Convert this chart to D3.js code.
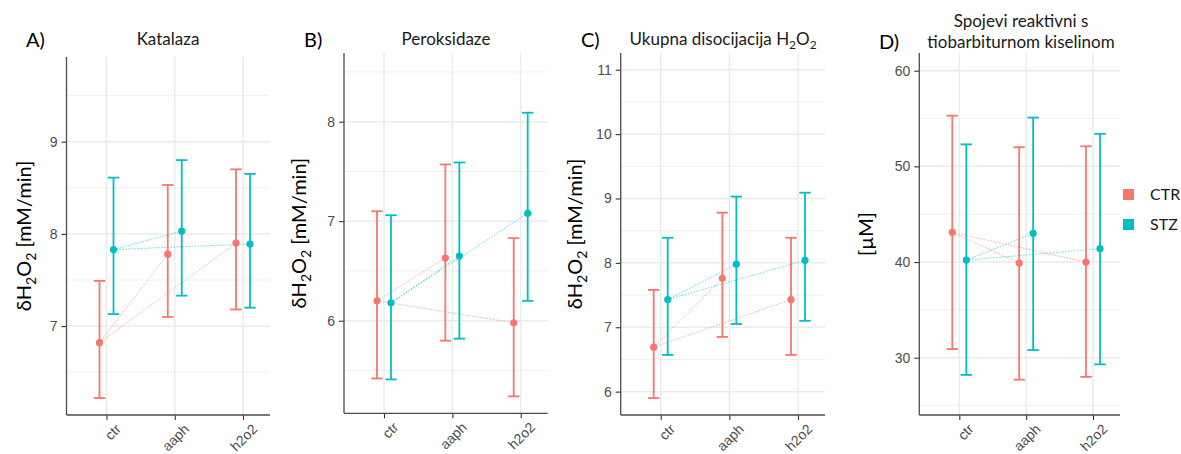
<!DOCTYPE html>
<html>
<head>
<meta charset="utf-8">
<script src="https://cdn.jsdelivr.net/npm/d3@7"></script>
<style>
  html, body { margin: 0; padding: 0; background: #fff; }
  svg { display: block; }
</style>
</head>
<body>
<svg id="chart" width="1181" height="454"></svg>
<script>
// ---------- DATA ----------
const categories = ["ctr", "aaph", "h2o2"];
const groups = ["CTR", "STZ"];
const groupColors = ["#F8766D", "#00BFC4"];

// A) Katalaza
const katalazaCTRmean = [6.82, 7.78, 7.90];
const katalazaCTRlow  = [6.22, 7.10, 7.18];
const katalazaCTRhigh = [7.49, 8.53, 8.70];
const katalazaSTZmean = [7.83, 8.03, 7.89];
const katalazaSTZlow  = [7.13, 7.33, 7.20];
const katalazaSTZhigh = [8.61, 8.80, 8.65];
const katalazaTicks = [7, 8, 9];

// B) Peroksidaze
const peroksidazeCTRmean = [6.20, 6.63, 5.98];
const peroksidazeCTRlow  = [5.42, 5.80, 5.24];
const peroksidazeCTRhigh = [7.10, 7.57, 6.83];
const peroksidazeSTZmean = [6.18, 6.65, 7.08];
const peroksidazeSTZlow  = [5.41, 5.82, 6.20];
const peroksidazeSTZhigh = [7.06, 7.59, 8.09];
const peroksidazeTicks = [6, 7, 8];

// C) Ukupna disocijacija H2O2
const ukupnaCTRmean = [6.69, 7.76, 7.43];
const ukupnaCTRlow  = [5.90, 6.85, 6.57];
const ukupnaCTRhigh = [7.58, 8.78, 8.39];
const ukupnaSTZmean = [7.43, 7.98, 8.04];
const ukupnaSTZlow  = [6.57, 7.05, 7.10];
const ukupnaSTZhigh = [8.39, 9.03, 9.09];
const ukupnaTicks = [6, 7, 8, 9, 10, 11];

// D) Spojevi reaktivni s tiobarbiturnom kiselinom
const tbarsCTRmean = [43.1, 39.9, 40.0];
const tbarsCTRlow  = [30.9, 27.7, 28.0];
const tbarsCTRhigh = [55.3, 52.0, 52.1];
const tbarsSTZmean = [40.2, 43.0, 41.4];
const tbarsSTZlow  = [28.2, 30.8, 29.3];
const tbarsSTZhigh = [52.3, 55.1, 53.4];
const tbarsTicks = [30, 40, 50, 60];

// ---------- LAYOUT ----------
const panels = [
  { letter: "A)", title: ["Katalaza"], yLabel: "h2o2",
    series: [[katalazaCTRmean, katalazaCTRlow, katalazaCTRhigh], [katalazaSTZmean, katalazaSTZlow, katalazaSTZhigh]],
    ticks: katalazaTicks, domain: [6.036, 9.918],
    left: 66.5, right: 270, top: 57, bottom: 415,
    letterX: 26, letterY: 47, titleX: 168, titleY: 45, yLabX: 31 },
  { letter: "B)", title: ["Peroksidaze"], yLabel: "h2o2",
    series: [[peroksidazeCTRmean, peroksidazeCTRlow, peroksidazeCTRhigh], [peroksidazeSTZmean, peroksidazeSTZlow, peroksidazeSTZhigh]],
    ticks: peroksidazeTicks, domain: [5.07, 8.69],
    left: 344, right: 547.7, top: 53, bottom: 413.3,
    letterX: 304, letterY: 47, titleX: 446, titleY: 45, yLabX: 306 },
  { letter: "C)", title: ["Ukupna disocijacija H2O2"], yLabel: "h2o2",
    series: [[ukupnaCTRmean, ukupnaCTRlow, ukupnaCTRhigh], [ukupnaSTZmean, ukupnaSTZlow, ukupnaSTZhigh]],
    ticks: ukupnaTicks, domain: [5.637, 11.26],
    left: 620.7, right: 825, top: 53, bottom: 415,
    letterX: 581, letterY: 47, titleX: 723, titleY: 45, yLabX: 582 },
  { letter: "D)", title: ["Spojevi reaktivni s", "tiobarbiturnom kiselinom"], yLabel: "uM",
    series: [[tbarsCTRmean, tbarsCTRlow, tbarsCTRhigh], [tbarsSTZmean, tbarsSTZlow, tbarsSTZhigh]],
    ticks: tbarsTicks, domain: [24.01, 61.85],
    left: 919.3, right: 1120, top: 53, bottom: 415,
    letterX: 879, letterY: 49, titleX: 1021, titleY: 27, yLabX: 873 }
];

const svg = d3.select("#chart");
const titleFont = "Lato, 'Open Sans', sans-serif";
const tickFont = "'Liberation Sans', Arial, sans-serif";
const gridColor = "#EBEBEB";
const axisColor = "#4D4D4D";
const dodge = 7;

function writeH2O2(sel, size) {
  sel.append("tspan").text("H");
  sel.append("tspan").text("2").attr("font-size", size * 0.7).attr("dy", size * 0.25);
  sel.append("tspan").text("O").attr("dy", -size * 0.25);
  sel.append("tspan").text("2").attr("font-size", size * 0.7).attr("dy", size * 0.25);
}

panels.forEach(p => {
  const g = svg.append("g");
  const x = d3.scalePoint().domain(categories).range([p.left + 40, p.right - 27]);
  const y = d3.scaleLinear().domain(p.domain).range([p.bottom, p.top]);

  // minor grid
  const minor = [];
  const step = p.ticks[1] - p.ticks[0];
  for (let i = 0; i < p.ticks.length + 1; i++) {
    const v = p.ticks[0] - step / 2 + i * step;
    if (v > p.domain[0] && v < p.domain[1]) minor.push(v);
  }
  g.selectAll(".minor").data(minor).enter().append("line")
    .attr("x1", p.left).attr("x2", p.right)
    .attr("y1", d => y(d)).attr("y2", d => y(d))
    .attr("stroke", gridColor).attr("stroke-width", 0.8);
  g.selectAll(".major").data(p.ticks).enter().append("line")
    .attr("x1", p.left).attr("x2", p.right)
    .attr("y1", d => y(d)).attr("y2", d => y(d))
    .attr("stroke", gridColor).attr("stroke-width", 1.5);
  g.selectAll(".vmajor").data(categories).enter().append("line")
    .attr("x1", d => x(d)).attr("x2", d => x(d))
    .attr("y1", p.top).attr("y2", p.bottom)
    .attr("stroke", gridColor).attr("stroke-width", 1.5);

  // axes
  const yAxis = d3.axisLeft(y).tickValues(p.ticks).tickSize(5).tickPadding(4).tickFormat(d3.format("d"));
  const ya = g.append("g").attr("transform", `translate(${p.left},0)`).call(yAxis);
  ya.select(".domain").remove();
  ya.selectAll(".tick line").attr("stroke", "#333").attr("stroke-width", 1.1);
  ya.selectAll(".tick text").attr("fill", axisColor).attr("font-family", tickFont).attr("font-size", 14);

  const xAxis = d3.axisBottom(x).tickSize(5).tickPadding(2);
  const xa = g.append("g").attr("transform", `translate(0,${p.bottom})`).call(xAxis);
  xa.select(".domain").remove();
  xa.selectAll(".tick line").attr("stroke", "#333").attr("stroke-width", 1.1);
  xa.selectAll(".tick text")
    .attr("fill", axisColor).attr("font-family", tickFont).attr("font-size", 14)
    .attr("text-anchor", "end").attr("dy", "0.7em")
    .attr("transform", "translate(3,3) rotate(-45)");

  g.append("line").attr("x1", p.left).attr("x2", p.left).attr("y1", p.top).attr("y2", p.bottom)
    .attr("stroke", axisColor).attr("stroke-width", 1.3);
  g.append("line").attr("x1", p.left).attr("x2", p.right).attr("y1", p.bottom).attr("y2", p.bottom)
    .attr("stroke", axisColor).attr("stroke-width", 1.3);

  // connecting dotted lines (ctr -> each treatment)
  p.series.forEach((s, gi) => {
    const off = gi === 0 ? -dodge : dodge;
    const means = s[0];
    [1, 2].forEach(ci => {
      g.append("line")
        .attr("x1", x(categories[0]) + off).attr("y1", y(means[0]))
        .attr("x2", x(categories[ci]) + off).attr("y2", y(means[ci]))
        .attr("stroke", groupColors[gi]).attr("stroke-width", 0.8)
        .attr("stroke-dasharray", "1.5,1.5").attr("opacity", 0.75);
    });
  });

  // error bars and points
  p.series.forEach((s, gi) => {
    const off = gi === 0 ? -dodge : dodge;
    const [means, lows, highs] = s;
    const col = groupColors[gi];
    const eg = g.append("g");
    categories.forEach((c, ci) => {
      const cx = x(c) + off;
      eg.append("line").attr("x1", cx).attr("x2", cx).attr("y1", y(lows[ci])).attr("y2", y(highs[ci]))
        .attr("stroke", col).attr("stroke-width", 1.8);
      [lows[ci], highs[ci]].forEach(v => {
        eg.append("line").attr("x1", cx - 5.7).attr("x2", cx + 5.7).attr("y1", y(v)).attr("y2", y(v))
          .attr("stroke", col).attr("stroke-width", 1.8);
      });
      eg.append("circle").attr("cx", cx).attr("cy", y(means[ci])).attr("r", 3.6).attr("fill", col);
    });
  });

  // panel letter
  svg.append("text").attr("x", p.letterX).attr("y", p.letterY).text(p.letter)
    .attr("font-family", titleFont).attr("font-size", 20).attr("fill", "#000");

  // title
  p.title.forEach((t, i) => {
    const tt = svg.append("text").attr("x", p.titleX).attr("y", p.titleY + i * 21)
      .attr("text-anchor", "middle").attr("font-family", titleFont).attr("font-size", 17).attr("fill", "#1A1A1A");
    if (t.indexOf("H2O2") >= 0) {
      tt.append("tspan").text("Ukupna disocijacija ");
      writeH2O2(tt, 17);
    } else {
      tt.text(t);
    }
  });

  // y-axis label
  const cy = (p.top + p.bottom) / 2;
  const yl = svg.append("text")
    .attr("transform", `translate(${p.yLabX},${cy}) rotate(-90)`)
    .attr("text-anchor", "middle").attr("font-family", titleFont).attr("font-size", 20).attr("fill", "#000");
  if (p.yLabel === "h2o2") {
    yl.append("tspan").text("δ");
    writeH2O2(yl, 20);
    yl.append("tspan").text(" [mM/min]").attr("dy", -20 * 0.25);
  } else {
    yl.text("[µM]");
  }
});

// legend
const legend = svg.append("g");
groups.forEach((gname, i) => {
  legend.append("rect").attr("x", 1123).attr("y", 189 + i * 30).attr("width", 11).attr("height", 11)
    .attr("fill", groupColors[i]);
  legend.append("text").attr("x", 1150).attr("y", 200 + i * 30).text(gname)
    .attr("font-family", titleFont).attr("font-size", 16).attr("fill", "#1A1A1A");
});
</script>
</body>
</html>
